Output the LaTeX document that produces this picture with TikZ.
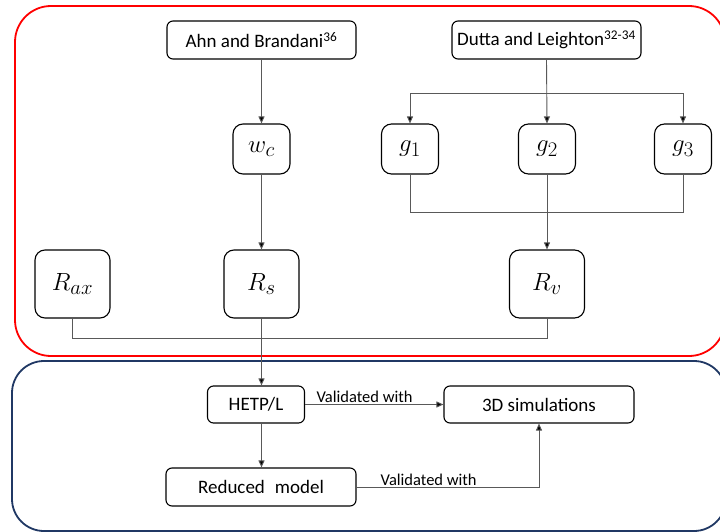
\documentclass[tikz,border=0pt]{standalone}
\usepackage{fontspec}
\setmainfont{Carlito}
\usetikzlibrary{arrows.meta,calc}
\definecolor{navy}{HTML}{203864}
\definecolor{conn}{HTML}{595959}
\begin{document}
\begin{tikzpicture}[x=1pt,y=-1pt,
  txtbox/.style={draw=black,line width=1.1pt,rounded corners=6pt,inner sep=0pt,font=\fontsize{19}{22}\selectfont},
  mathbox/.style={draw=black,line width=1.1pt,rounded corners=10pt,inner sep=0pt,font=\fontsize{28}{32}\selectfont},
  lab/.style={font=\fontsize{16.5}{19}\selectfont,inner sep=1pt},
  conline/.style={draw=conn,line width=0.9pt},
  arr/.style={conline,-{Triangle[length=7pt,width=6pt,fill=black]}}
  ]
\useasboundingbox (0,0) rectangle (720,532);
% frames
\draw[red,line width=1.8pt,rounded corners=36pt] (15,6) rectangle (725,356);
\draw[navy,line width=1.8pt,rounded corners=32pt] (12,361) rectangle (726,531);
% nodes
\node[txtbox,minimum width=189pt,minimum height=38pt] (ahn) at (261.5,40) {Ahn and Brandani\textsuperscript{36}};
\node[txtbox,minimum width=189pt,minimum height=38pt] (dutta) at (546.5,40) {Dutta and Leighton\textsuperscript{32-34}};
\node[mathbox,minimum width=57pt,minimum height=50pt] (wc) at (261.5,149) {$w_c$};
\node[mathbox,minimum width=57pt,minimum height=50pt] (g1) at (410,149) {$g_1$};
\node[mathbox,minimum width=57pt,minimum height=50pt] (g2) at (547,149) {$g_2$};
\node[mathbox,minimum width=57pt,minimum height=50pt] (g3) at (683,149) {$g_3$};
\node[mathbox,minimum width=75pt,minimum height=68pt] (rax) at (72.5,284) {$R_{ax}$};
\node[mathbox,minimum width=75pt,minimum height=68pt] (rs) at (261.5,284) {$R_s$};
\node[mathbox,minimum width=75pt,minimum height=68pt] (rv) at (547,284) {$R_v$};
\node[txtbox,minimum width=97pt,minimum height=37pt] (hetp) at (256,404.5) {HETP/L};
\node[txtbox,minimum width=190pt,minimum height=37pt] (sim) at (539,404.5) {3D simulations};
\node[txtbox,minimum width=190pt,minimum height=38pt] (red) at (261,487) {Reduced\hspace{0.3em} model};
% connectors top
\coordinate (split) at (546.5,93);
\coordinate (join) at (547,212);
\coordinate (bjoin) at (261.5,338);
\draw[arr] (ahn.south) -- (wc.north);
\draw[arr] (dutta.south) -- (g2.north);
\draw[arr] (split) -| (g1.north);
\draw[arr] (split) -| (g3.north);
\draw[conline] (g1.south) |- (join);
\draw[conline] (g3.south) |- (join);
\draw[arr] (g2.south) -- (rv.north);
\draw[arr] (wc.south) -- (rs.north);
\draw[conline] (rax.south) |- (bjoin);
\draw[conline] (rv.south) |- (bjoin);
\draw[arr] (rs.south) -- (rs.south |- hetp.north);
% connectors bottom
\draw[arr] (hetp.east) -- node[lab,above,pos=0.43] {Validated with} (sim.west);
\draw[arr] (rs.south |- hetp.south) -- (rs.south |- red.north);
\coordinate (corner) at (sim.south |- red.east);
\draw[arr] (red.east) -- node[lab,above,pos=0.395] {Validated with} (corner) -- (sim.south);
\end{tikzpicture}
\end{document}
